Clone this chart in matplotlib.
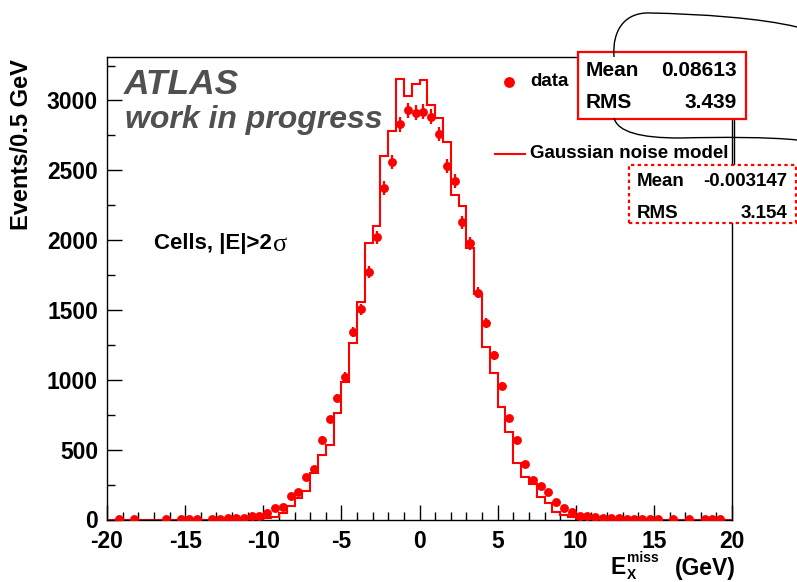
import numpy as np
import matplotlib
matplotlib.use("Agg")
import matplotlib.pyplot as plt
from matplotlib.patches import Rectangle, PathPatch
from matplotlib.path import Path
from matplotlib.lines import Line2D
from matplotlib.ticker import MultipleLocator

plt.rcParams["font.family"] = ["Liberation Sans", "DejaVu Sans"]
plt.rcParams["font.weight"] = "bold"
plt.rcParams["axes.unicode_minus"] = False

# Measured missing-Ex spectrum (cells with |E| > 2 sigma), 0.5 GeV bins
data_x = [-19.25, -18.25, -16.25, -15.25, -14.75, -14.25, -13.25, -12.75, -12.25,
          -11.75, -11.25, -10.75, -10.25, -9.75, -9.25, -8.75, -8.25, -7.75, -7.25,
          -6.75, -6.25, -5.75, -5.25, -4.75, -4.25, -3.75, -3.25, -2.75, -2.25,
          -1.75, -1.25, -0.75, -0.25, 0.25, 0.75, 1.25, 1.75, 2.25, 2.75, 3.25,
          3.75, 4.25, 4.75, 5.25, 5.75, 6.25, 6.75, 7.25, 7.75, 8.25, 8.75, 9.25,
          9.75, 10.25, 10.75, 11.25, 11.75, 12.25, 12.75, 13.25, 13.75, 14.25,
          14.75, 15.25, 16.25, 17.25, 18.25, 18.75, 19.25]
data_y = [2, 2, 2, 2, 2, 2, 3, 4, 8,
          12, 13, 24, 27, 50, 80, 88, 168, 196, 302,
          359, 572, 717, 870, 1022, 1340, 1505, 1774, 2020, 2375,
          2558, 2829, 2931, 2912, 2919, 2883, 2760, 2532, 2422, 2127, 1977,
          1624, 1407, 1175, 956, 724, 567, 395, 283, 240, 199, 125, 80,
          52, 25, 25, 18, 13, 13, 8, 5, 4, 4,
          4, 3, 2, 2, 2, 2, 2]

# Gaussian noise model prediction, same binning
model_x = [-10.25, -9.75, -9.25, -8.75, -8.25, -7.75, -7.25, -6.75, -6.25, -5.75,
           -5.25, -4.75, -4.25, -3.75, -3.25, -2.75, -2.25, -1.75, -1.25, -0.75,
           -0.25, 0.25, 0.75, 1.25, 1.75, 2.25, 2.75, 3.25, 3.75, 4.25,
           4.75, 5.25, 5.75, 6.25, 6.75, 7.25, 7.75, 8.25, 8.75, 9.25,
           9.75, 10.25, 10.75]
model_y = [3, 8, 16, 49, 97, 152, 206, 330, 460, 533,
           760, 986, 1266, 1559, 1980, 2100, 2602, 2778, 3150, 3032,
           3120, 3143, 2967, 2872, 2705, 2323, 2245, 1941, 1617, 1237,
           1046, 807, 628, 402, 306, 252, 163, 120, 56, 32,
           16, 6, 3]

stats_data = [("Mean", "0.08613"), ("RMS", "3.439")]
stats_model = [("Mean", "-0.003147"), ("RMS", "3.154")]

RED = "#ff0000"
W, H = 797, 582

fig = plt.figure(figsize=(W / 100, H / 100), dpi=100)


def fx(px):
    return px / W


def fy(py):
    return 1 - py / H


ax = fig.add_axes([fx(107), fy(519.5), fx(732) - fx(107), fy(57) - fy(519.5)])

# model histogram over the full axis range
edges = np.arange(-20, 20.001, 0.5)
counts = np.zeros(len(edges) - 1)
idx = np.round((np.array(model_x) + 20) / 0.5 - 0.5).astype(int)
counts[idx] = model_y
ax.stairs(counts, edges, color=RED, lw=1.5, zorder=2)

# data points with Poisson errors
dy = np.sqrt(np.array(data_y, dtype=float))
ax.errorbar(data_x, data_y, yerr=dy, fmt="o", color=RED, ms=6.4, mew=0,
            elinewidth=1.6, capsize=0, zorder=3)

ax.set_xlim(-20, 20)
ax.set_ylim(0, 3311)
ax.xaxis.set_major_locator(MultipleLocator(5))
ax.xaxis.set_minor_locator(MultipleLocator(1))
ax.yaxis.set_major_locator(MultipleLocator(500))
ax.yaxis.set_minor_locator(MultipleLocator(250))
ax.tick_params(which="major", direction="in", length=10.5, width=1,
               labelsize=16.5, pad=6.5)
ax.tick_params(which="minor", direction="in", length=5.5, width=1)
ax.tick_params(axis="x", which="major", pad=7.7)
for lab in ax.get_xticklabels() + ax.get_yticklabels():
    lab.set_fontweight("bold")
for s in ax.spines.values():
    s.set_linewidth(1)

# axis titles
fig.text(fx(22), fy(59), "Events/0.5 GeV", rotation=90, ha="center", va="top",
         fontsize=17, fontweight="bold")
fig.text(fx(736), fy(568), "(GeV)", ha="right", va="center", fontsize=16.5,
         fontweight="bold")
fig.text(fx(611), fy(568), "E", ha="left", va="center", fontsize=16.5,
         fontweight="bold")
fig.text(fx(626.5), fy(558.5), "miss", ha="left", va="center", fontsize=10,
         fontweight="bold")
fig.text(fx(626.5), fy(575), "X", ha="left", va="center", fontsize=10,
         fontweight="bold")

# labels inside the frame
GRAY = "#505050"
fig.text(fx(124), fy(85), "ATLAS", fontsize=25.5, fontweight="bold",
         style="italic", color=GRAY, ha="left", va="center")
fig.text(fx(125), fy(120), "work in progress", fontsize=23, fontweight="bold",
         style="italic", color=GRAY, ha="left", va="center")
fig.text(fx(154), fy(243), "Cells, |E|>2", fontsize=16, fontweight="bold",
         ha="left", va="center")
fig.text(fx(272.5), fy(245), "σ", fontsize=19, fontweight="normal",
         family="Liberation Serif", ha="left", va="center")

# legend
fig.add_artist(Line2D([fx(509)], [fy(82)], marker="o", ms=7.8, mew=0,
                      color=RED, transform=fig.transFigure))
fig.text(fx(530), fy(82), "data", fontsize=13.5, fontweight="bold",
         ha="left", va="center")
fig.add_artist(Line2D([fx(495), fx(525)], [fy(154), fy(154)], color=RED,
                      lw=1.5, transform=fig.transFigure))
fig.text(fx(530), fy(154), "Gaussian noise model", fontsize=13.5,
         fontweight="bold", ha="left", va="center")

# statistics boxes
box1 = Rectangle((fx(578), fy(119)), fx(745.5) - fx(578), fy(52.5) - fy(119),
                 transform=fig.transFigure, facecolor="white", edgecolor=RED,
                 lw=1.6, zorder=5)
fig.add_artist(box1)
for i, (k, v) in enumerate(stats_data):
    yy = 70 + i * 33
    fig.text(fx(586), fy(yy), k, fontsize=15, fontweight="bold", ha="left",
             va="center", zorder=6)
    fig.text(fx(737), fy(yy), v, fontsize=15, fontweight="bold", ha="right",
             va="center", zorder=6)

# frame edge between the boxes
fig.add_artist(Line2D([fx(733.5), fx(733.5)], [fy(119), fy(165)], color="black",
                      lw=1, transform=fig.transFigure, zorder=4))

box2 = Rectangle((fx(628.5), fy(222.5)), fx(796) - fx(628.5), fy(165) - fy(222.5),
                 transform=fig.transFigure, facecolor="white", edgecolor=RED,
                 lw=1.6, ls=(0, (1.5, 1.5)), zorder=5)
fig.add_artist(box2)
for i, (k, v) in enumerate(stats_model):
    yy = 181 + i * 32
    fig.text(fx(637), fy(yy), k, fontsize=13.5, fontweight="bold", ha="left",
             va="center", zorder=6)
    fig.text(fx(787), fy(yy), v, fontsize=13.5, fontweight="bold", ha="right",
             va="center", zorder=6)


# hand-drawn outline around the data statistics
def curve(pts):
    verts = [(fx(x), fy(y)) for x, y in pts]
    codes = [Path.MOVETO] + [Path.CURVE4] * (len(verts) - 1)
    return PathPatch(Path(verts, codes), transform=fig.transFigure,
                     facecolor="none", edgecolor="black", lw=1, zorder=7)


fig.add_artist(curve([(614, 57), (612, 30), (625, 12), (650, 13),
                      (700, 14), (760, 18), (797, 27)]))
fig.add_artist(curve([(614, 118), (618, 132), (640, 138), (680, 138),
                      (720, 137), (770, 137), (797, 140)]))

fig.savefig("out.png", dpi=100)
